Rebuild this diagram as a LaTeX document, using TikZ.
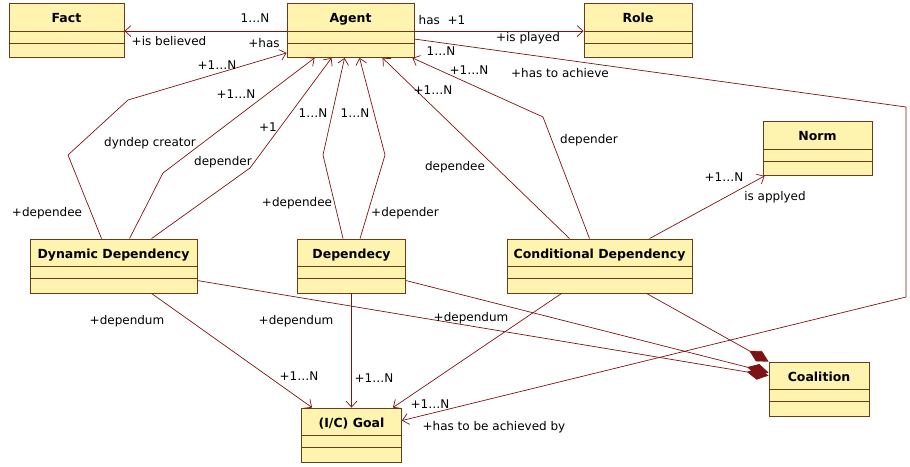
\documentclass[tikz,border=0pt]{standalone}
\usepackage{fontspec}
\setmainfont{DejaVu Sans}
\usetikzlibrary{arrows.meta,calc}
\definecolor{boxfill}{RGB}{255,243,176}
\definecolor{boxline}{RGB}{105,60,25}
\definecolor{linkcol}{RGB}{125,20,20}
\tikzset{
  classbox/.style={draw=boxline, fill=boxfill, line width=0.9pt, minimum width=#1,
    inner xsep=0pt, inner ysep=0pt, text height=19pt, text depth=35pt,
    font=\fontsize{12.5}{14}\selectfont\bfseries},
  assoc/.style={draw=linkcol, line width=0.7pt, -{Straight Barb[length=6pt,width=11pt]}},
  aggr/.style={draw=linkcol, line width=0.7pt, {Diamond[length=22pt,width=12pt,fill=linkcol]}-},
  lbl/.style={font=\fontsize{12}{13}\selectfont, inner sep=0pt}
}
\begin{document}
\begin{tikzpicture}[x=1pt,y=-1pt]
    \useasboundingbox (0,0) rectangle (910,466);

    % classes
    \node[classbox=115pt] (fact) at (66.5, 30.5) {Fact};
    \node[classbox=127pt] (agent) at (350.5, 30.5) {Agent};
    \node[classbox=108pt] (role) at (638, 30.5) {Role};
    \node[classbox=109pt] (norm) at (817.5, 148.5) {Norm};
    \node[classbox=167pt] (dyn) at (113.5, 266) {Dynamic Dependency};
    \node[classbox=108pt] (dep) at (351.5, 266) {Dependecy};
    \node[classbox=185pt] (cond) at (599.5, 266) {Conditional Dependency};
    \node[classbox=100pt] (goal) at (351.5, 435) {(I/C) Goal};
    \node[classbox=100pt] (coal) at (819, 389) {Coalition};

    \foreach \c in {fact,agent,role,norm,dyn,dep,cond,goal,coal} {
      \draw[boxline, line width=0.9pt] ($(\c.north west)+(0,28)$) -- ($(\c.north east)+(0,28)$);
      \draw[boxline, line width=0.9pt] ($(\c.north west)+(0,40)$) -- ($(\c.north east)+(0,40)$);
    }

    % bends
    \coordinate (r1) at (906,107);
    \coordinate (r2) at (906,297);
    \coordinate (d1) at (68,155);
    \coordinate (d2) at (128,100);
    \coordinate (d3) at (163,173);
    \coordinate (d4) at (250,168);
    \coordinate (e1) at (323,155);
    \coordinate (e2) at (385,155);
    \coordinate (c1) at (543,117);

    % agent links
    \draw[assoc] ($(agent.north west)+(0,28)$) -- ($(fact.north east)+(0,28)$);
    \draw[assoc] ($(agent.north east)+(0,28)$) -- ($(role.north west)+(0,28)$);
    \draw[assoc] ($(agent.north east)+(0,36)$) -- (r1) -- (r2) -- ($(goal.north east)+(0,13)$);

    % dependers and dependees
    \draw[assoc] ($(dyn.north west)+(72,0)$) -- (d1) -- (d2) -- ($(agent.south west)+(0,-5)$);
    \draw[assoc] ($(dyn.north west)+(100,0)$) -- (d3) -- ($(agent.south west)+(28,0)$);
    \draw[assoc] ($(dyn.north west)+(122,0)$) -- (d4) -- ($(agent.south west)+(45,0)$);
    \draw[assoc] ($(dep.north west)+(46,0)$) -- (e1) -- ($(agent.south west)+(58,0)$);
    \draw[assoc] ($(dep.north west)+(63,0)$) -- (e2) -- ($(agent.south west)+(73,0)$);
    \draw[assoc] ($(cond.north west)+(63,0)$) -- ($(agent.south west)+(96,0)$);
    \draw[assoc] ($(cond.north west)+(83,0)$) -- (c1) -- ($(agent.south east)+(-2,0)$);
    \draw[assoc] ($(cond.north west)+(143,0)$) -- ($(norm.south west)+(2,0)$);

    % dependum
    \draw[assoc] ($(dyn.south west)+(122,0)$) -- ($(goal.north west)+(11,0)$);
    \draw[assoc] (dep.south) -- (goal.north);
    \draw[assoc] ($(cond.south west)+(55,0)$) -- ($(goal.north east)+(-9,0)$);

    % coalition
    \draw[aggr] ($(coal.north west)+(0,14)$) -- ($(dyn.north east)+(0,42)$);
    \draw[aggr] ($(coal.north west)+(0,11)$) -- ($(dep.north east)+(0,42)$);
    \draw[aggr] (coal.north west) -- ($(cond.south west)+(140,0)$);

    % role names
    \node[lbl] (l1) at (255,18) {1…N};
    \node[lbl] (l2) at (169,41) {+is believed};
    \node[lbl] (l3) at (264,43) {+has};
    \node[lbl] (l4) at (442,20) {has\ \ +1};
    \node[lbl] (l5) at (528,38) {+is played};
    \node[lbl] (l6) at (441,51) {1…N};
    \node[lbl] (l7) at (469,70) {+1…N};
    \node[lbl] (l8) at (560,73) {+has to achieve};
    \node[lbl] (l9) at (433,90) {+1…N};
    \node[lbl] (l10) at (217,65) {+1…N};
    \node[lbl] (l11) at (236,94) {+1…N};
    \node[lbl] (l12) at (268,127) {+1};
    \node[lbl] (l13) at (313,113) {1…N};
    \node[lbl] (l14) at (355,113) {1…N};
    \node[lbl] (l15) at (150,143) {dyndep creator};
    \node[lbl] (l16) at (223,162) {depender};
    \node[lbl] (l17) at (47,213) {+dependee};
    \node[lbl] (l18) at (297,203) {+dependee};
    \node[lbl] (l19) at (405,213) {+depender};
    \node[lbl] (l20) at (455,167) {dependee};
    \node[lbl] (l21) at (589,140) {depender};
    \node[lbl] (l22) at (724,177) {+1…N};
    \node[lbl] (l23) at (775,197) {is applyed};
    \node[lbl] (l24) at (127,321) {+dependum};
    \node[lbl] (l25) at (296,321) {+dependum};
    \node[lbl] (l26) at (471,318) {+dependum};
    \node[lbl] (l27) at (299,376) {+1…N};
    \node[lbl] (l28) at (374,378) {+1…N};
    \node[lbl] (l29) at (430,404) {+1…N};
    \node[lbl] (l30) at (494,427) {+has to be achieved by};

\end{tikzpicture}
\end{document}
